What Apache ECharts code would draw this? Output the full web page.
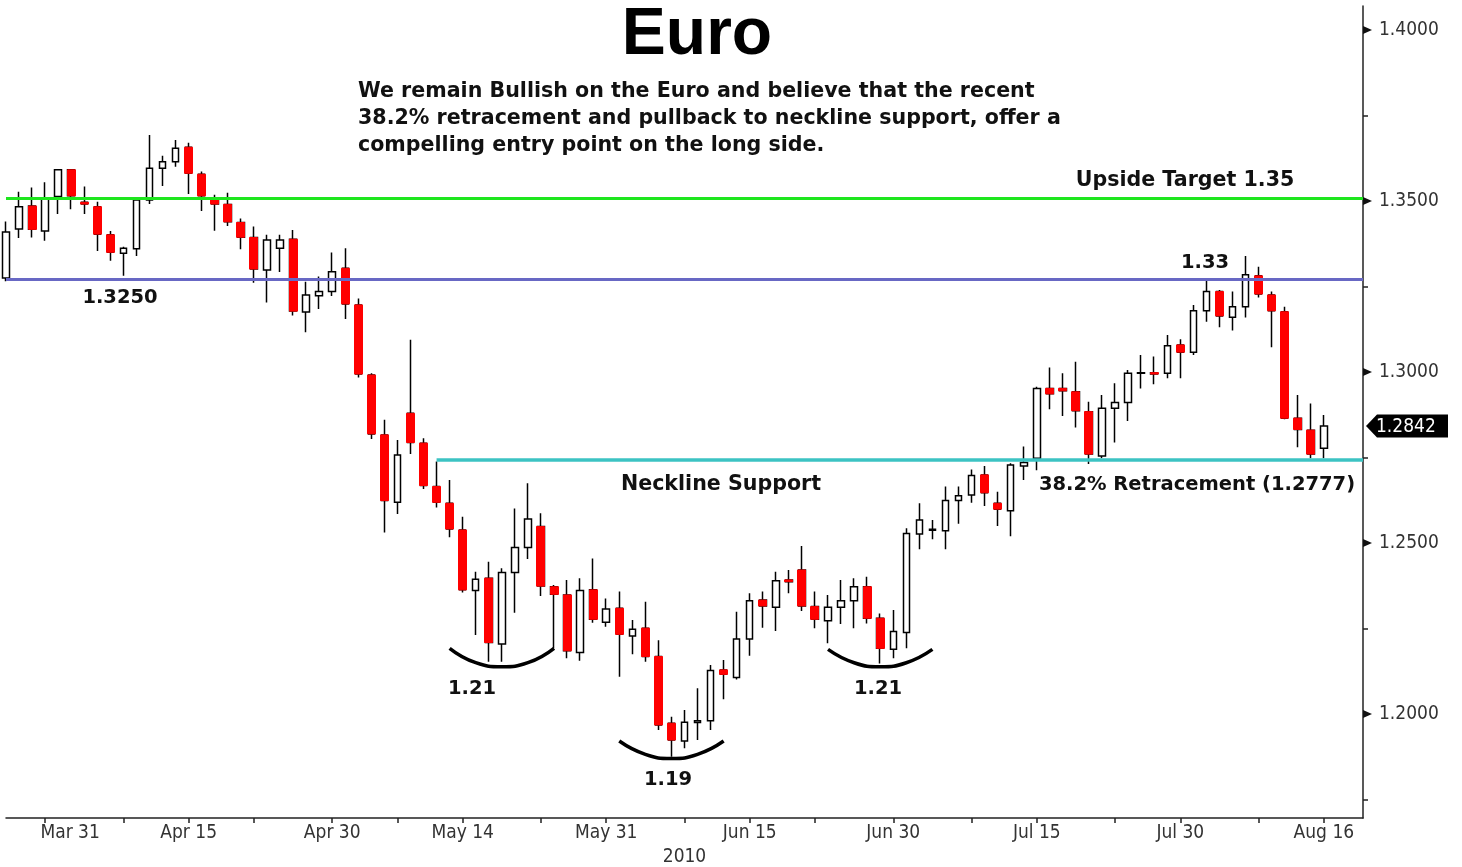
<!DOCTYPE html>
<html>
<head>
<meta charset="utf-8">
<title>Euro</title>
<script src="https://cdn.jsdelivr.net/npm/echarts@6/dist/echarts.min.js"></script>
<style>
    html, body { margin: 0; padding: 0; background: #fff; }
    #chart { width: 1462px; height: 867px; }
</style>
</head>
<body>
<div id="chart"></div>
<script>
let chart = echarts.init(document.getElementById('chart'));

// 数据：EUR/USD 日线 (2010)
const dates = [
    'Mar 26', 'Mar 29', 'Mar 30', 'Mar 31', 'Apr 1', 'Apr 2', 'Apr 5', 'Apr 6', 'Apr 7', 'Apr 8',
    'Apr 9', 'Apr 12', 'Apr 13', 'Apr 14', 'Apr 15', 'Apr 16', 'Apr 19', 'Apr 20', 'Apr 21', 'Apr 22',
    'Apr 23', 'Apr 26', 'Apr 27', 'Apr 28', 'Apr 29', 'Apr 30', 'May 3', 'May 4', 'May 5', 'May 6',
    'May 7', 'May 10', 'May 11', 'May 12', 'May 13', 'May 14', 'May 17', 'May 18', 'May 19', 'May 20',
    'May 21', 'May 24', 'May 25', 'May 26', 'May 27', 'May 28', 'May 31', 'Jun 1', 'Jun 2', 'Jun 3',
    'Jun 4', 'Jun 7', 'Jun 8', 'Jun 9', 'Jun 10', 'Jun 11', 'Jun 14', 'Jun 15', 'Jun 16', 'Jun 17',
    'Jun 18', 'Jun 21', 'Jun 22', 'Jun 23', 'Jun 24', 'Jun 25', 'Jun 28', 'Jun 29', 'Jun 30', 'Jul 1',
    'Jul 2', 'Jul 5', 'Jul 6', 'Jul 7', 'Jul 8', 'Jul 9', 'Jul 12', 'Jul 13', 'Jul 14', 'Jul 15',
    'Jul 16', 'Jul 19', 'Jul 20', 'Jul 21', 'Jul 22', 'Jul 23', 'Jul 26', 'Jul 27', 'Jul 28', 'Jul 29',
    'Jul 30', 'Aug 2', 'Aug 3', 'Aug 4', 'Aug 5', 'Aug 6', 'Aug 9', 'Aug 10', 'Aug 11', 'Aug 12',
    'Aug 13', 'Aug 16'
];
const emptyDates = ['Aug 17', 'Aug 18', 'Aug 19'];   // 右侧留白

const opens = [
    1.3275, 1.3418, 1.3485, 1.3412, 1.3513, 1.3591, 1.3496, 1.3483, 1.3401, 1.3347,
    1.3360, 1.3503, 1.3596, 1.3615, 1.3657, 1.3578, 1.3506, 1.3490, 1.3437, 1.3393,
    1.3298, 1.3362, 1.3388, 1.3175, 1.3223, 1.3235, 1.3303, 1.3196, 1.2991, 1.2816,
    1.2619, 1.2879, 1.2792, 1.2665, 1.2616, 1.2538, 1.2361, 1.2397, 1.2205, 1.2414,
    1.2487, 1.2548, 1.2372, 1.2348, 1.2180, 1.2363, 1.2268, 1.2309, 1.2228, 1.2251,
    1.2168, 1.1973, 1.1921, 1.1975, 1.1980, 1.2129, 1.2107, 1.2219, 1.2333, 1.2312,
    1.2392, 1.2421, 1.2314, 1.2273, 1.2312, 1.2331, 1.2372, 1.2280, 1.2189, 1.2238,
    1.2526, 1.2537, 1.2536, 1.2624, 1.2640, 1.2699, 1.2616, 1.2594, 1.2725, 1.2748,
    1.2952, 1.2952, 1.2942, 1.2884, 1.2754, 1.2894, 1.2911, 1.2996, 1.2998, 1.2996,
    1.3079, 1.3058, 1.3179, 1.3235, 1.3160, 1.3191, 1.3281, 1.3225, 1.3176, 1.2865,
    1.2830, 1.2777
];
const highs = [
    1.3440, 1.3527, 1.3539, 1.3555, 1.3592, 1.3593, 1.3542, 1.3498, 1.3412, 1.3366,
    1.3506, 1.3693, 1.3632, 1.3678, 1.3670, 1.3586, 1.3518, 1.3524, 1.3449, 1.3425,
    1.3401, 1.3401, 1.3415, 1.3264, 1.3279, 1.3349, 1.3362, 1.3215, 1.2996, 1.2860,
    1.2801, 1.3094, 1.2806, 1.2738, 1.2684, 1.2577, 1.2416, 1.2445, 1.2426, 1.2601,
    1.2675, 1.2587, 1.2377, 1.2392, 1.2397, 1.2455, 1.2338, 1.2358, 1.2275, 1.2328,
    1.2216, 1.1992, 1.2012, 1.2075, 1.2143, 1.2158, 1.2299, 1.2353, 1.2358, 1.2416,
    1.2421, 1.2491, 1.2358, 1.2348, 1.2392, 1.2397, 1.2401, 1.2294, 1.2304, 1.2543,
    1.2616, 1.2567, 1.2665, 1.2665, 1.2715, 1.2725, 1.2650, 1.2733, 1.2782, 1.2957,
    1.3013, 1.2996, 1.3030, 1.2913, 1.2933, 1.2967, 1.3006, 1.3050, 1.3045, 1.3108,
    1.3096, 1.3196, 1.3267, 1.3240, 1.3235, 1.3339, 1.3308, 1.3235, 1.3191, 1.2933,
    1.2908, 1.2874
];
const lows = [
    1.3265, 1.3392, 1.3393, 1.3384, 1.3462, 1.3476, 1.3462, 1.3354, 1.3325, 1.3281,
    1.3339, 1.3491, 1.3544, 1.3600, 1.3520, 1.3471, 1.3413, 1.3427, 1.3359, 1.3261,
    1.3203, 1.3292, 1.3165, 1.3116, 1.3184, 1.3222, 1.3155, 1.2984, 1.2804, 1.2531,
    1.2585, 1.2760, 1.2658, 1.2604, 1.2517, 1.2355, 1.2231, 1.2153, 1.2153, 1.2296,
    1.2453, 1.2345, 1.2192, 1.2163, 1.2156, 1.2267, 1.2255, 1.2109, 1.2175, 1.2153,
    1.1953, 1.1875, 1.1900, 1.1924, 1.1953, 1.2043, 1.2101, 1.2170, 1.2252, 1.2243,
    1.2353, 1.2301, 1.2251, 1.2207, 1.2263, 1.2251, 1.2265, 1.2148, 1.2163, 1.2192,
    1.2482, 1.2511, 1.2482, 1.2556, 1.2618, 1.2608, 1.2550, 1.2520, 1.2684, 1.2713,
    1.2891, 1.2871, 1.2838, 1.2731, 1.2748, 1.2794, 1.2857, 1.2952, 1.2964, 1.2982,
    1.2982, 1.3050, 1.3147, 1.3131, 1.3121, 1.3159, 1.3218, 1.3072, 1.2862, 1.2780,
    1.2748, 1.2748
];
const closes = [
    1.3409, 1.3483, 1.3417, 1.3508, 1.3591, 1.3515, 1.3491, 1.3403, 1.3350, 1.3362,
    1.3503, 1.3596, 1.3615, 1.3654, 1.3581, 1.3515, 1.3491, 1.3439, 1.3394, 1.3301,
    1.3386, 1.3386, 1.3178, 1.3225, 1.3235, 1.3293, 1.3199, 1.2994, 1.2819, 1.2624,
    1.2757, 1.2794, 1.2668, 1.2619, 1.2541, 1.2363, 1.2394, 1.2209, 1.2414, 1.2487,
    1.2570, 1.2374, 1.2350, 1.2185, 1.2361, 1.2277, 1.2307, 1.2233, 1.2248, 1.2168,
    1.1968, 1.1924, 1.1976, 1.1980, 1.2127, 1.2116, 1.2219, 1.2331, 1.2316, 1.2390,
    1.2387, 1.2316, 1.2277, 1.2312, 1.2331, 1.2372, 1.2280, 1.2192, 1.2241, 1.2528,
    1.2567, 1.2540, 1.2624, 1.2638, 1.2697, 1.2647, 1.2599, 1.2728, 1.2735, 1.2952,
    1.2936, 1.2945, 1.2887, 1.2760, 1.2894, 1.2911, 1.2996, 1.2998, 1.2994, 1.3077,
    1.3058, 1.3179, 1.3235, 1.3164, 1.3191, 1.3284, 1.3228, 1.3179, 1.2865, 1.2832,
    1.2760, 1.2842
];

// 坐标轴刻度
const yLabelTicks = [1.20, 1.25, 1.30, 1.35, 1.40];
const yMinorTicks = [1.175, 1.225, 1.275, 1.325, 1.375];
const xLabelDates = ['Mar 31', 'Apr 15', 'Apr 30', 'May 14', 'May 31', 'Jun 15', 'Jun 30', 'Jul 15', 'Jul 30', 'Aug 16'];
const xTickDates = ['Mar 31', 'Apr 8', 'Apr 15', 'Apr 22', 'Apr 30', 'May 7', 'May 14', 'May 24', 'May 31', 'Jun 8',
    'Jun 15', 'Jun 22', 'Jun 30', 'Jul 8', 'Jul 15', 'Jul 23', 'Jul 30', 'Aug 9', 'Aug 16'];

// 水平线
const upsideLevel = 1.3509;
const resistLevel = 1.3272;
const necklineLevel = 1.2743;
const necklineFrom = 'May 12';

// 底部弧线
const arc1Dates = ['May 13', 'May 17', 'May 19', 'May 21', 'May 25'];
const arc1Values = [1.2192, 1.2150, 1.2138, 1.2150, 1.2192];
const arc2Dates = ['Jun 1', 'Jun 3', 'Jun 7', 'Jun 9', 'Jun 11'];
const arc2Values = [1.1921, 1.1882, 1.1870, 1.1882, 1.1921];
const arc3Dates = ['Jun 23', 'Jun 25', 'Jun 29', 'Jul 1', 'Jul 5'];
const arc3Values = [1.2189, 1.2150, 1.2138, 1.2150, 1.2189];

const categories = dates.concat(emptyDates);
const firstCat = categories[0];
const lastCat = categories[categories.length - 1];

// 全部K线（黑色影线 + 白色阳线）
let allCandles = dates.map((d, i) => [opens[i], closes[i], lows[i], highs[i]]);
// 阴线实体覆盖成红色（无影线）
let downBodies = dates.map((d, i) => closes[i] < opens[i]
    ? [opens[i], closes[i], Math.min(opens[i], closes[i]), Math.max(opens[i], closes[i])]
    : '-');

let arcSeries = function (ds, vs) {
    return {
        type: 'line',
        data: ds.map((d, i) => [d, vs[i]]),
        smooth: true,
        symbol: 'none',
        silent: true,
        z: 6,
        lineStyle: {color: '#000', width: 3.5}
    };
};

let levelLine = function (from, to, v, color, width) {
    return [
        {coord: [from, v], lineStyle: {color: color, width: width, type: 'solid'}},
        {coord: [to, v]}
    ];
};

const axisFont = 'DejaVu Sans Condensed, DejaVu Sans, sans-serif';
const noteFont = 'DejaVu Sans, sans-serif';

let option = {
    animation: false,
    backgroundColor: '#fff',
    grid: {left: 6, right: 99, top: 6, bottom: 49, containLabel: false, outerBoundsMode: 'none'},
    xAxis: {
        type: 'category',
        data: categories,
        boundaryGap: false,
        axisLine: {lineStyle: {color: '#222', width: 1.5}},
        axisTick: {
            interval: (i, v) => xTickDates.includes(categories[i]),
            length: 5,
            lineStyle: {color: '#222', width: 1.5}
        },
        axisLabel: {
            interval: (i, v) => xLabelDates.includes(categories[i]),
            margin: 6,
            color: '#333',
            fontFamily: axisFont,
            fontSize: 19,
            formatter: function (v) {
                return v === 'Mar 31' ? '{s|' + v + '}' : v;
            },
            rich: {
                s: {padding: [0, 0, 0, 50], color: '#333', fontFamily: axisFont, fontSize: 19}
            }
        },
        splitLine: {show: false},
        name: '2010',
        nameLocation: 'middle',
        nameGap: 29,
        nameTextStyle: {color: '#333', fontFamily: axisFont, fontSize: 19}
    },
    yAxis: [
        {
            type: 'value',
            position: 'right',
            min: 1.1696,
            max: 1.4070,
            scale: true,
            axisLine: {show: true, lineStyle: {color: '#222', width: 1.5}},
            axisTick: {show: false},
            splitLine: {show: false},
            axisLabel: {
                customValues: yLabelTicks,
                margin: 16,
                padding: [3, 0, 0, 0],
                color: '#333',
                fontFamily: axisFont,
                fontSize: 19,
                formatter: v => v.toFixed(4)
            }
        },
        {
            type: 'value',
            position: 'right',
            min: 1.1696,
            max: 1.4070,
            scale: true,
            axisLine: {show: false},
            axisTick: {show: true, customValues: yMinorTicks, length: 5, lineStyle: {color: '#222', width: 1.5}},
            axisLabel: {show: false},
            splitLine: {show: false}
        }
    ],
    series: [
        {
            type: 'candlestick',
            data: allCandles,
            barWidth: 7,
            z: 2,
            itemStyle: {
                color: '#fff',
                color0: '#ff0000',
                borderColor: '#000',
                borderColor0: '#000',
                borderWidth: 1.5
            }
        },
        {
            type: 'candlestick',
            data: downBodies,
            barWidth: 8.5,
            z: 3,
            itemStyle: {
                color: '#ff0000',
                color0: '#ff0000',
                borderColor: '#ff0000',
                borderColor0: '#ff0000',
                borderWidth: 1
            }
        },
        {
            type: 'line',
            data: [],
            z: 5,
            markLine: {
                silent: true,
                symbol: 'none',
                precision: 4,
                label: {show: false},
                data: [
                    levelLine(firstCat, lastCat, upsideLevel, '#1ee61e', 3),
                    levelLine(firstCat, lastCat, resistLevel, '#6868c4', 3),
                    levelLine(necklineFrom, lastCat, necklineLevel, '#3cc3c3', 3.5)
                ]
            }
        },
        arcSeries(arc1Dates, arc1Values),
        arcSeries(arc2Dates, arc2Values),
        arcSeries(arc3Dates, arc3Values)
    ]
};

chart.setOption(option);

// 文字注释、刻度三角、最新价标签
let noteText = function (text, x, y, align, size) {
    return {
        type: 'text', x: x, y: y, silent: true, z: 20,
        style: {
            text: text, fill: '#111', font: 'bold ' + (size || 20.6) + 'px ' + noteFont,
            align: align || 'center', verticalAlign: 'middle'
        }
    };
};

let axisX = 1363;
let graphics = [
    {
        type: 'text', x: 697, y: 36, silent: true, z: 20,
        style: {text: 'Euro', fill: '#000', font: 'bold 66px "Liberation Sans", Arial, sans-serif', align: 'center', verticalAlign: 'middle'}
    },
    noteText('We remain Bullish on the Euro and believe that the recent', 358, 92, 'left'),
    noteText('38.2% retracement and pullback to neckline support, offer a', 358, 119, 'left'),
    noteText('compelling entry point on the long side.', 358, 146, 'left'),
    noteText('Upside Target 1.35', 1185, 181),
    noteText('1.3250', 120, 298, 'center', 19.5),
    noteText('1.33', 1205, 263, 'center', 19.5),
    noteText('Neckline Support', 721, 485),
    noteText('38.2% Retracement (1.2777)', 1197, 485, 'center', 19.5),
    noteText('1.21', 472, 689, 'center', 19.5),
    noteText('1.19', 668, 780, 'center', 19.5),
    noteText('1.21', 878, 689, 'center', 19.5)
];

yLabelTicks.forEach(v => {
    let y = chart.convertToPixel({yAxisIndex: 0}, v);
    graphics.push({
        type: 'polygon', silent: true, z: 20,
        shape: {points: [[axisX, y - 4], [axisX + 9, y], [axisX, y + 4]]},
        style: {fill: '#111'}
    });
});

let lastClose = closes[closes.length - 1];
let py = chart.convertToPixel({yAxisIndex: 0}, lastClose);
graphics.push({
    type: 'polygon', silent: true, z: 20,
    shape: {points: [[axisX + 3, py], [axisX + 14, py - 11.5], [1448, py - 11.5], [1448, py + 11.5], [axisX + 14, py + 11.5]]},
    style: {fill: '#000'}
});
graphics.push({
    type: 'text', x: 1376, y: py + 1, silent: true, z: 21,
    style: {text: lastClose.toFixed(4), fill: '#fff', font: '19px ' + axisFont, align: 'left', verticalAlign: 'middle'}
});

chart.setOption({graphic: graphics});
</script>
</body>
</html>
